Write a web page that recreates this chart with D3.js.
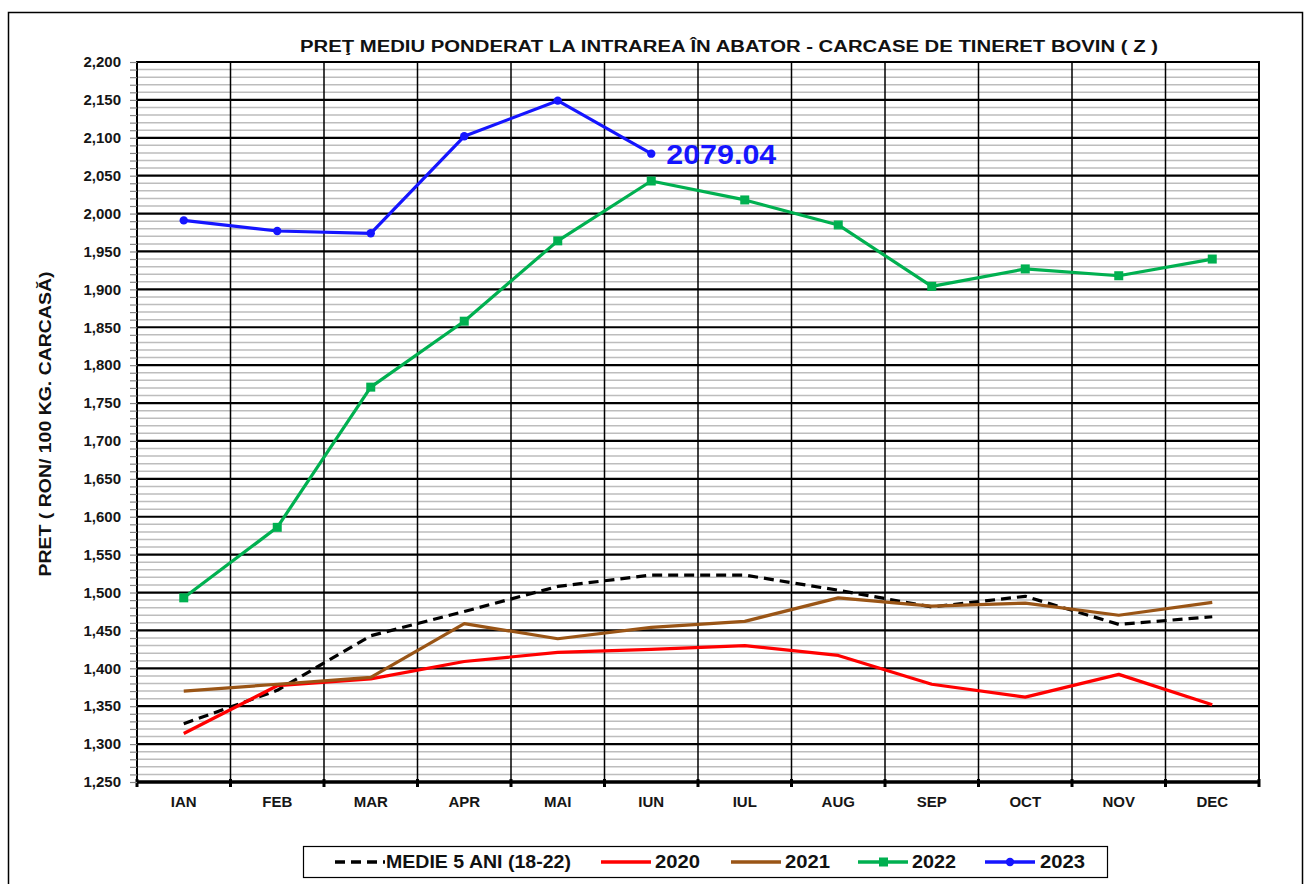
<!DOCTYPE html>
<html>
<head>
<meta charset="utf-8">
<script src="https://cdn.jsdelivr.net/npm/d3@7"></script>
<style>
  html, body { margin: 0; padding: 0; background: #fff; }
  svg { display: block; }
  text { font-family: "Liberation Sans", Arial, sans-serif; }
</style>
</head>
<body>
<svg id="chart" width="1308" height="884"></svg>
<script>
// ---- Data ----
const months = ["IAN","FEB","MAR","APR","MAI","IUN","IUL","AUG","SEP","OCT","NOV","DEC"];
const medie5 = [1327,1371,1443,1475,1508,1523,1523,1503,1481,1495,1458,1468];
const v2020 = [1314,1377,1386,1409,1421,1425,1430,1417,1379,1362,1392,1352];
const v2021 = [1370,1379,1388,1459,1439,1454,1462,1493,1482,1486,1470,1487];
const v2022 = [1493,1586,1771,1858,1964,2043,2018,1985,1904,1927,1918,1940];
const v2023 = [1991,1977,1974,2102,2149,2079.04];
const yMin = 1250, yMax = 2200, yMajor = 50, yMinor = 10;
const titleText = "PREŢ MEDIU PONDERAT  LA  INTRAREA  ÎN  ABATOR  - CARCASE  DE  TINERET  BOVIN ( Z )";
const yLabel = "PRET ( RON/ 100 KG.  CARCASĂ)";
const lastLabel = "2079.04";

const series = [
  {name: "MEDIE 5 ANI (18-22)", values: medie5, color: "#000000", dash: "10,6", marker: null},
  {name: "2020", values: v2020, color: "#ff0000", dash: null, marker: null},
  {name: "2021", values: v2021, color: "#9a5516", dash: null, marker: null},
  {name: "2022", values: v2022, color: "#00b050", dash: null, marker: "square"},
  {name: "2023", values: v2023, color: "#1515ff", dash: null, marker: "circle"}
];

// ---- Layout ----
const svg = d3.select("#chart");
const L = 137, R = 1259, T = 62, B = 782;

// outer frame
svg.append("rect").attr("x", 8.5).attr("y", 12.5).attr("width", 1294).attr("height", 900)
  .attr("fill", "none").attr("stroke", "#000").attr("stroke-width", 1.5);

const x = d3.scaleBand().domain(months).range([L, R]).padding(0);
const y = d3.scaleLinear().domain([yMin, yMax]).range([B, T]);

const minorTicks = d3.range(yMin, yMax + 0.001, yMinor);
const majorTicks = d3.range(yMin, yMax + 0.001, yMajor);

const g = svg.append("g");

// minor gridlines
g.selectAll("line.minor").data(minorTicks.filter(v => v % yMajor !== 0)).join("line")
  .attr("x1", L).attr("x2", R).attr("y1", d => y(d)).attr("y2", d => y(d))
  .attr("stroke", "#bdbdbd").attr("stroke-width", 1.5);

// vertical gridlines
g.selectAll("line.vert").data(months.slice(1)).join("line")
  .attr("x1", d => x(d)).attr("x2", d => x(d)).attr("y1", T).attr("y2", B)
  .attr("stroke", "#000").attr("stroke-width", 1.5);

// major gridlines
g.selectAll("line.major").data(majorTicks).join("line")
  .attr("x1", L).attr("x2", R).attr("y1", d => y(d)).attr("y2", d => y(d))
  .attr("stroke", "#000").attr("stroke-width", 2.2);

// plot border
g.append("rect").attr("x", L).attr("y", T).attr("width", R - L).attr("height", B - T)
  .attr("fill", "none").attr("stroke", "#000").attr("stroke-width", 2);
// bottom axis thick
g.append("line").attr("x1", L).attr("x2", R).attr("y1", B).attr("y2", B)
  .attr("stroke", "#000").attr("stroke-width", 3.5);
// x tick marks at boundaries
const bounds = months.map(m => x(m)).concat([R]);
g.selectAll("line.xt").data(bounds).join("line")
  .attr("x1", d => d).attr("x2", d => d).attr("y1", B - 3).attr("y2", B + 5)
  .attr("stroke", "#000").attr("stroke-width", 3);

// y axis ticks (minor outside)
const yAxis = d3.axisLeft(y).tickValues(minorTicks).tickSize(7).tickFormat("");
const ya = svg.append("g").attr("transform", `translate(${L},0)`).call(yAxis);
ya.select(".domain").remove();
ya.selectAll(".tick line").attr("stroke", "#888").attr("stroke-width", 1.2);

// y labels
svg.append("g").selectAll("text").data(majorTicks).join("text")
  .attr("x", 121).attr("y", d => y(d)).attr("dy", "0.35em")
  .attr("text-anchor", "end").attr("font-size", 15).attr("font-weight", "bold")
  .attr("fill", "#161616").text(d => d3.format(",")(d));

// x labels
svg.append("g").selectAll("text").data(months).join("text")
  .attr("x", d => x(d) + x.bandwidth() / 2).attr("y", 807)
  .attr("text-anchor", "middle").attr("font-size", 15).attr("font-weight", "bold")
  .attr("fill", "#161616").text(d => d);

// title
svg.append("text").attr("x", 729).attr("y", 52).attr("text-anchor", "middle")
  .attr("font-size", 16).attr("font-weight", "bold").attr("fill", "#111")
  .attr("textLength", 858).attr("lengthAdjust", "spacingAndGlyphs")
  .text(titleText);

// y axis title
svg.append("text").attr("transform", "translate(51,424) rotate(-90)")
  .attr("text-anchor", "middle").attr("font-size", 17).attr("font-weight", "bold")
  .attr("fill", "#111").attr("textLength", 305).attr("lengthAdjust", "spacingAndGlyphs")
  .text(yLabel);

// lines
const cx = i => x(months[i]) + x.bandwidth() / 2;
const line = d3.line().x((d, i) => cx(i)).y(d => y(d));
const lines = svg.append("g");
series.forEach(s => {
  lines.append("path").datum(s.values).attr("d", line)
    .attr("fill", "none").attr("stroke", s.color).attr("stroke-width", 3.2)
    .attr("stroke-linejoin", "round")
    .attr("stroke-dasharray", s.dash);
  if (s.marker === "square") {
    lines.selectAll(null).data(s.values).join("rect")
      .attr("x", (d, i) => cx(i) - 4.5).attr("y", d => y(d) - 4.5)
      .attr("width", 9).attr("height", 9).attr("fill", s.color);
  } else if (s.marker === "circle") {
    lines.selectAll(null).data(s.values).join("circle")
      .attr("cx", (d, i) => cx(i)).attr("cy", d => y(d)).attr("r", 4.2)
      .attr("fill", s.color);
  }
});

// last value label
const li = v2023.length - 1;
svg.append("text").attr("x", cx(li) + 15).attr("y", y(v2023[li]) + 10)
  .attr("font-size", 28).attr("font-weight", "bold").attr("fill", "#1515ff")
  .attr("textLength", 110).attr("lengthAdjust", "spacingAndGlyphs")
  .text(lastLabel);

// legend
const lg = svg.append("g");
lg.append("rect").attr("x", 303.5).attr("y", 846.5).attr("width", 804).attr("height", 31)
  .attr("fill", "#fff").attr("stroke", "#000").attr("stroke-width", 1.2);
const legendPos = [
  {lx: 335, tx: 386, w: 185},
  {lx: 601, tx: 655, w: 45},
  {lx: 731, tx: 785, w: 45},
  {lx: 858, tx: 912, w: 44},
  {lx: 985, tx: 1040, w: 45}
];
series.forEach((s, i) => {
  const p = legendPos[i];
  const yy = 862;
  lg.append("line").attr("x1", p.lx).attr("x2", p.lx + 50).attr("y1", yy).attr("y2", yy)
    .attr("stroke", s.color).attr("stroke-width", 3.5).attr("stroke-dasharray", s.dash);
  if (s.marker === "square") {
    lg.append("rect").attr("x", p.lx + 21).attr("y", yy - 4.5).attr("width", 9).attr("height", 9).attr("fill", s.color);
  } else if (s.marker === "circle") {
    lg.append("circle").attr("cx", p.lx + 25).attr("cy", yy).attr("r", 4.2).attr("fill", s.color);
  }
  lg.append("text").attr("x", p.tx).attr("y", yy).attr("dy", "0.36em")
    .attr("font-size", 18).attr("font-weight", "bold").attr("fill", "#111")
    .attr("textLength", p.w).attr("lengthAdjust", "spacingAndGlyphs")
    .text(s.name);
});
</script>
</body>
</html>
